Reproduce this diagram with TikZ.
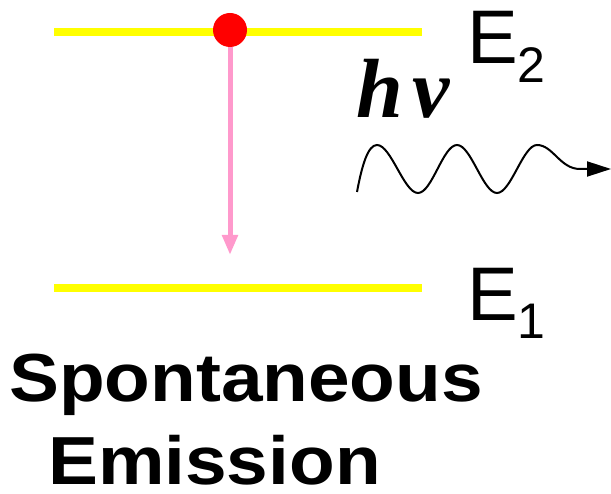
\documentclass[tikz,border=0pt]{standalone}
\usepackage{fontspec}
\setmainfont{Liberation Sans}
\newfontfamily\timesbi[BoldItalicFont={Liberation Serif Bold Italic}]{Liberation Serif}
\usetikzlibrary{arrows.meta}
\definecolor{lvl}{HTML}{FFFF00}
\definecolor{transpink}{HTML}{FF99CC}
\tikzset{
  level/.style={draw=lvl, line width=8pt},
  electron/.style={circle, fill=red, minimum size=34pt, inner sep=0pt},
  decay/.style={draw=transpink, line width=5pt, -{Triangle[length=20pt,width=15pt]}},
  photon/.style={draw=black, line width=2pt, -{Triangle[length=24pt,width=15pt]}},
  lab/.style={anchor=base west, inner sep=0pt, font=\fontsize{76}{76}\selectfont},
  title/.style={anchor=base west, inner sep=0pt, text depth=0pt, font=\bfseries\fontsize{68}{68}\selectfont},
}
\begin{document}
\begin{tikzpicture}[x=1pt,y=-1pt]
\useasboundingbox (0,0) rectangle (611,494);
% levels
\coordinate (t1) at (54,32);
\coordinate (t2) at (422,32);
\coordinate (b1) at (54,288);
\coordinate (b2) at (422,288);
\draw[level] (t1) -- (t2);
\draw[level] (b1) -- (b2);
% electron and decay arrow
\node[electron] (el) at (230,30) {};
\coordinate (tip) at (230,255);
\draw[decay] (el.south) -- (tip);
% level labels
\node[lab] (E2) at (467,64) {E\raisebox{-19pt}{\fontsize{50}{50}\selectfont 2}};
\node[lab] (E1) at (467,321) {E\raisebox{-18pt}{\fontsize{50}{50}\selectfont 1}};
% photon
\node[anchor=base west, inner sep=0pt, font=\timesbi\bfseries\itshape\fontsize{84}{84}\selectfont] (hv) at (356,118) {h\hspace{10pt}ν};
\coordinate (w0) at (357,192);
\coordinate (wend) at (611,169);
\draw[photon] (w0) .. controls (362,165) and (368,145) .. (377,145)
  .. controls (391,145) and (404,193) .. (418,193)
  .. controls (432,193) and (443,145) .. (457,145)
  .. controls (471,145) and (483,193) .. (497,193)
  .. controls (511,193) and (523,145) .. (537,145)
  .. controls (553,145) and (560,169) .. (580,169) -- (wend);
% title
\node[title] (t1txt) at (9,402) {\scalebox{1.1}[1]{Spontaneous}};
\node[title] (t2txt) at (48,485) {\scalebox{1.1}[1]{Emission}};
\end{tikzpicture}
\end{document}
